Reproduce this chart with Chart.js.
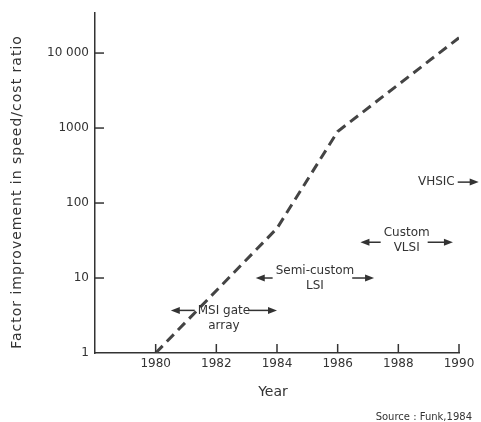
<!DOCTYPE html>
<html>
<head>
<meta charset="utf-8">
<script src="https://cdn.jsdelivr.net/npm/chart.js@4.4.1/dist/chart.umd.min.js"></script>
<style>
  html, body { margin: 0; padding: 0; background: #fff; }
</style>
</head>
<body>
<canvas id="myChart" width="481" height="422"></canvas>
<script>
const years = [1980, 1984, 1986, 1990];
const ratio = [1, 46, 900, 16000];
const xTicks = [1980, 1982, 1984, 1986, 1988, 1990];
const yTicks = [1, 10, 100, 1000, 10000];
const yTickLabels = ['1', '10', '100', '1000', '10 000'];

// technology eras: text, arrow span (years), arrow level (ratio)
const eraNames = [['MSI gate', 'array'], ['Semi-custom', 'LSI'], ['Custom', 'VLSI'], ['VHSIC']];
const eraFrom = [1980.5, 1983.3, 1986.75, null];
const eraTo = [1984, 1987.2, 1989.8, 1990.65];
const eraLevel = [3.7, 10, 30, 190];

const ink = '#333';
const font = 'DejaVu Sans';

// where the text sits relative to its arrows (px)
const eraTextDy = [0, -7, -9, 0];

function arrow(ctx, x1, x2, yy) {
  const dir = Math.sign(x2 - x1);
  ctx.beginPath();
  ctx.moveTo(x1, yy);
  ctx.lineTo(x2 - dir * 6, yy);
  ctx.stroke();
  ctx.beginPath();
  ctx.moveTo(x2, yy);
  ctx.lineTo(x2 - dir * 9, yy - 3.5);
  ctx.lineTo(x2 - dir * 9, yy + 3.5);
  ctx.closePath();
  ctx.fill();
}

const decorations = {
  id: 'decorations',
  afterDraw(chart) {
    const {ctx, scales: {x, y}} = chart;
    ctx.save();
    ctx.strokeStyle = ink;
    ctx.fillStyle = ink;
    ctx.lineWidth = 1.5;

    // tick marks pointing into the plot
    xTicks.forEach(v => {
      const px = x.getPixelForValue(v);
      ctx.beginPath(); ctx.moveTo(px, y.bottom); ctx.lineTo(px, y.bottom - 9); ctx.stroke();
    });
    yTicks.slice(1).forEach(v => {
      const py = y.getPixelForValue(v);
      ctx.beginPath(); ctx.moveTo(x.left, py); ctx.lineTo(x.left + 9, py); ctx.stroke();
    });

    // era labels with arrows
    ctx.font = '12px "' + font + '"';
    ctx.textAlign = 'center';
    ctx.textBaseline = 'middle';
    eraNames.forEach((lines, i) => {
      const ay = y.getPixelForValue(eraLevel[i]);
      const tx = x.getPixelForValue(eraTo[i]);
      if (eraFrom[i] === null) {
        ctx.textAlign = 'right';
        ctx.fillText(lines[0], tx - 24, ay);
        ctx.textAlign = 'center';
        arrow(ctx, tx - 21, tx, ay);
        return;
      }
      const fx = x.getPixelForValue(eraFrom[i]);
      const cx = (fx + tx) / 2;
      const ty = ay + eraTextDy[i];
      lines.forEach((s, k) => ctx.fillText(s, cx, ty + k * 15));
      const half = ctx.measureText(lines[0]).width / 2;
      arrow(ctx, cx - half - 3, fx, ay);
      arrow(ctx, cx + half - 2, tx, ay);
    });

    // axis titles and source
    ctx.font = '14px "' + font + '"';
    ctx.fillText('Year', 273, 392);
    ctx.save();
    ctx.translate(17, 192);
    ctx.rotate(-Math.PI / 2);
    ctx.letterSpacing = '1px';
    ctx.fillText('Factor improvement in speed/cost ratio', 0, 0);
    ctx.restore();
    ctx.font = '10px "' + font + '"';
    ctx.textAlign = 'right';
    ctx.fillText('Source : Funk,1984', 472, 417);
    ctx.restore();
  }
};

const ctx = document.getElementById('myChart');
const myChart = new Chart(ctx, {
  type: 'line',
  data: {
    datasets: [{
      data: years.map((yr, i) => ({x: yr, y: ratio[i]})),
      borderColor: '#444',
      borderWidth: 3,
      borderDash: [10, 6],
      pointRadius: 0,
      tension: 0,
      fill: false
    }]
  },
  options: {
    responsive: false,
    animation: false,
    layout: {padding: {top: 12, right: 22, left: 0, bottom: 0}},
    plugins: {legend: {display: false}, tooltip: {enabled: false}},
    scales: {
      x: {
        type: 'linear',
        min: 1978,
        max: 1990,
        afterBuildTicks: s => { s.ticks = xTicks.map(v => ({value: v})); },
        afterFit: s => { s.height = 69; },
        grid: {display: false, drawTicks: false},
        border: {display: true, color: ink, width: 1.5},
        ticks: {
          padding: 4,
          maxRotation: 0,
          autoSkip: false,
          color: ink,
          font: {family: font, size: 12},
          callback: v => String(v)
        }
      },
      y: {
        type: 'logarithmic',
        min: 1,
        max: 34000,
        afterBuildTicks: s => { s.ticks = yTicks.map(v => ({value: v})); },
        afterFit: s => { s.width = 95; },
        grid: {display: false, drawTicks: false},
        border: {display: true, color: ink, width: 1.5},
        ticks: {
          padding: 6,
          autoSkip: false,
          color: ink,
          font: {family: font, size: 12},
          callback: v => yTickLabels[yTicks.indexOf(v)]
        }
      }
    }
  },
  plugins: [decorations]
});
</script>
</body>
</html>
